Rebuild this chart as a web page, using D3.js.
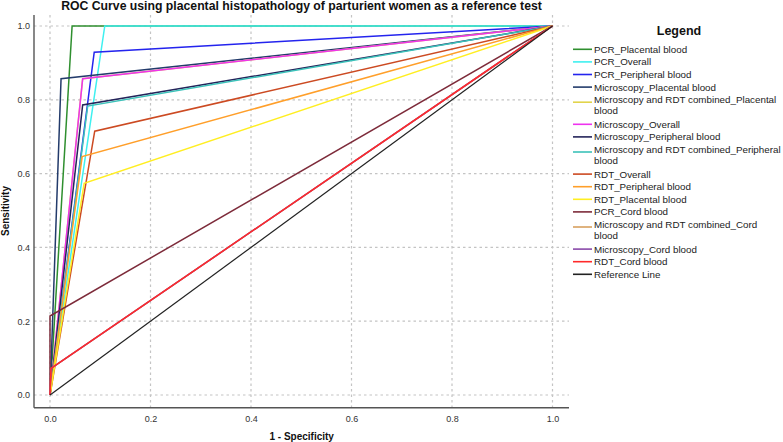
<!DOCTYPE html>
<html>
<head>
<meta charset="utf-8">
<script src="https://cdn.jsdelivr.net/npm/d3@7"></script>
<style>
    html, body { margin: 0; padding: 0; background: #fff; }
    svg { display: block; font-family: "Liberation Sans", Arial, sans-serif; }
    .grid line { stroke: #c4c4c4; stroke-width: 1.2; stroke-dasharray: 2.5 3; }
    .tick-labels text { fill: #333; font-size: 9px; }
</style>
</head>
<body>
<svg id="chart" width="783" height="442"></svg>
<script>
// Series in legend (and drawing) order. Each ROC curve has one cut point,
// joined to (0,0) and (1,1). Reference line has no cut point.
const seriesNames = [
    'PCR_Placental blood',
    'PCR_Overall',
    'PCR_Peripheral blood',
    'Microscopy_Placental blood',
    'Microscopy and RDT combined_Placental blood',
    'Microscopy_Overall',
    'Microscopy_Peripheral blood',
    'Microscopy and RDT combined_Peripheral blood',
    'RDT_Overall',
    'RDT_Peripheral blood',
    'RDT_Placental blood',
    'PCR_Cord blood',
    'Microscopy and RDT combined_Cord blood',
    'Microscopy_Cord blood',
    'RDT_Cord blood',
    'Reference Line'
];
// 1 - specificity at the cut point
const cutFpr = [0.044, 0.109, 0.088, 0.022, 0.065, 0.065, 0.065, 0.075, 0.089, 0.064, 0.068, 0.000, 0.002, 0.002, 0.002, null];
// sensitivity at the cut point
const cutTpr = [1.000, 1.000, 0.929, 0.857, 0.857, 0.857, 0.786, 0.783, 0.715, 0.646, 0.574, 0.214, 0.072, 0.072, 0.072, null];
const axisTicks = [0, 0.2, 0.4, 0.6, 0.8, 1.0];

// Line colours, same order as seriesNames.
const COLORS = [
    '#2f8f2f', '#3ff0f0', '#2424ee', '#233b6b', '#e2d44c', '#ee33ee', '#24245a', '#3cc2ba',
    '#cc4a22', '#ff9f2a', '#ffee22', '#7d2b3a', '#d8a060', '#8a4aaa', '#ff2a2a', '#222222'
];

const FRAME = { left: 34, right: 569, top: 15, bottom: 407.7 };

const svg = d3.select('#chart');

const x = d3.scaleLinear().domain([0, 1]).range([50, 552.5]);
const y = d3.scaleLinear().domain([0, 1]).range([395, 26]);

// ----- grid -----
const grid = svg.append('g').attr('class', 'grid');
grid.selectAll('line.gx').data(axisTicks).join('line')
    .attr('class', 'gx')
    .attr('x1', (d) => x(d)).attr('x2', (d) => x(d))
    .attr('y1', FRAME.top).attr('y2', FRAME.bottom);
grid.selectAll('line.gy').data(axisTicks).join('line')
    .attr('class', 'gy')
    .attr('x1', FRAME.left).attr('x2', FRAME.right)
    .attr('y1', (d) => y(d)).attr('y2', (d) => y(d));

// ----- axes -----
svg.append('line')
    .attr('x1', FRAME.left).attr('x2', FRAME.left)
    .attr('y1', FRAME.top).attr('y2', FRAME.bottom)
    .attr('stroke', '#555').attr('stroke-width', 1.4);
svg.append('line')
    .attr('x1', FRAME.left).attr('x2', FRAME.right)
    .attr('y1', FRAME.bottom).attr('y2', FRAME.bottom)
    .attr('stroke', '#555').attr('stroke-width', 1.4);

const fmt = d3.format('.1f');
const xAxis = svg.append('g').attr('class', 'tick-labels')
    .attr('transform', `translate(0,${FRAME.bottom})`)
    .call(d3.axisBottom(x).tickValues(axisTicks).tickFormat(fmt).tickSize(0).tickPadding(8));
const yAxis = svg.append('g').attr('class', 'tick-labels')
    .attr('transform', `translate(${FRAME.left},0)`)
    .call(d3.axisLeft(y).tickValues(axisTicks).tickFormat(fmt).tickSize(0).tickPadding(4));
[xAxis, yAxis].forEach((g) => {
    g.select('.domain').remove();
    g.attr('font-family', null).attr('font-size', null);
});

// ----- curves -----
const line = d3.line().x((d) => x(d[0])).y((d) => y(d[1]));
const curves = seriesNames.map((name, i) => {
    const pts = cutFpr[i] === null
        ? [[0, 0], [1, 1]]
        : [[0, 0], [cutFpr[i], cutTpr[i]], [1, 1]];
    return { name, pts, color: COLORS[i] };
});
svg.append('g').attr('class', 'curves')
    .selectAll('path').data(curves).join('path')
    .attr('d', (d) => line(d.pts))
    .attr('fill', 'none')
    .attr('stroke', (d) => d.color)
    .attr('stroke-width', (d) => d.name === 'Reference Line' ? 1.2 : 1.5)
    .attr('stroke-linejoin', 'miter');

// ----- titles -----
const title = svg.append('text')
    .attr('x', 301.5).attr('y', 10)
    .attr('text-anchor', 'middle')
    .attr('font-weight', 'bold').attr('font-size', 13).attr('fill', '#111')
    .text('ROC Curve using placental histopathology of parturient women as a reference test');
// squeeze to the width seen in the reference
const tw = title.node().getComputedTextLength();
title.attr('font-size', 13 * 481 / tw);

svg.append('text')
    .attr('x', 301.7).attr('y', 439.5)
    .attr('text-anchor', 'middle')
    .attr('font-weight', 'bold').attr('font-size', 10).attr('fill', '#111')
    .text('1 - Specificity');

svg.append('text')
    .attr('transform', 'translate(9,211) rotate(-90)')
    .attr('text-anchor', 'middle')
    .attr('font-weight', 'bold').attr('font-size', 10).attr('fill', '#111')
    .text('Sensitivity');

// ----- legend -----
const legend = svg.append('g').attr('class', 'legend');
legend.append('text')
    .attr('x', 679).attr('y', 35)
    .attr('text-anchor', 'middle')
    .attr('font-weight', 'bold').attr('font-size', 12.5).attr('fill', '#111')
    .text('Legend');

// wrap long entries the way the reference does
function splitLabel(name) {
    if (name.startsWith('Microscopy and RDT combined_')) {
        const cut = name.lastIndexOf(' ');
        return [name.slice(0, cut), name.slice(cut + 1)];
    }
    return [name];
}

let rowY = 49.3;
curves.forEach((c) => {
    const lines = splitLabel(c.name);
    const sy = rowY + (lines.length > 1 ? 2.5 : 0);
    legend.append('line')
        .attr('x1', 573).attr('x2', 592)
        .attr('y1', sy).attr('y2', sy)
        .attr('stroke', c.color).attr('stroke-width', 1.6);
    const t = legend.append('text')
        .attr('x', 594).attr('y', rowY)
        .attr('font-size', 9.8).attr('fill', '#222');
    lines.forEach((ln, j) => {
        t.append('tspan').attr('x', 594).attr('dy', j === 0 ? '0.35em' : 11).text(ln);
    });
    rowY += 12.6 + (lines.length - 1) * 12;
});
</script>
</body>
</html>
